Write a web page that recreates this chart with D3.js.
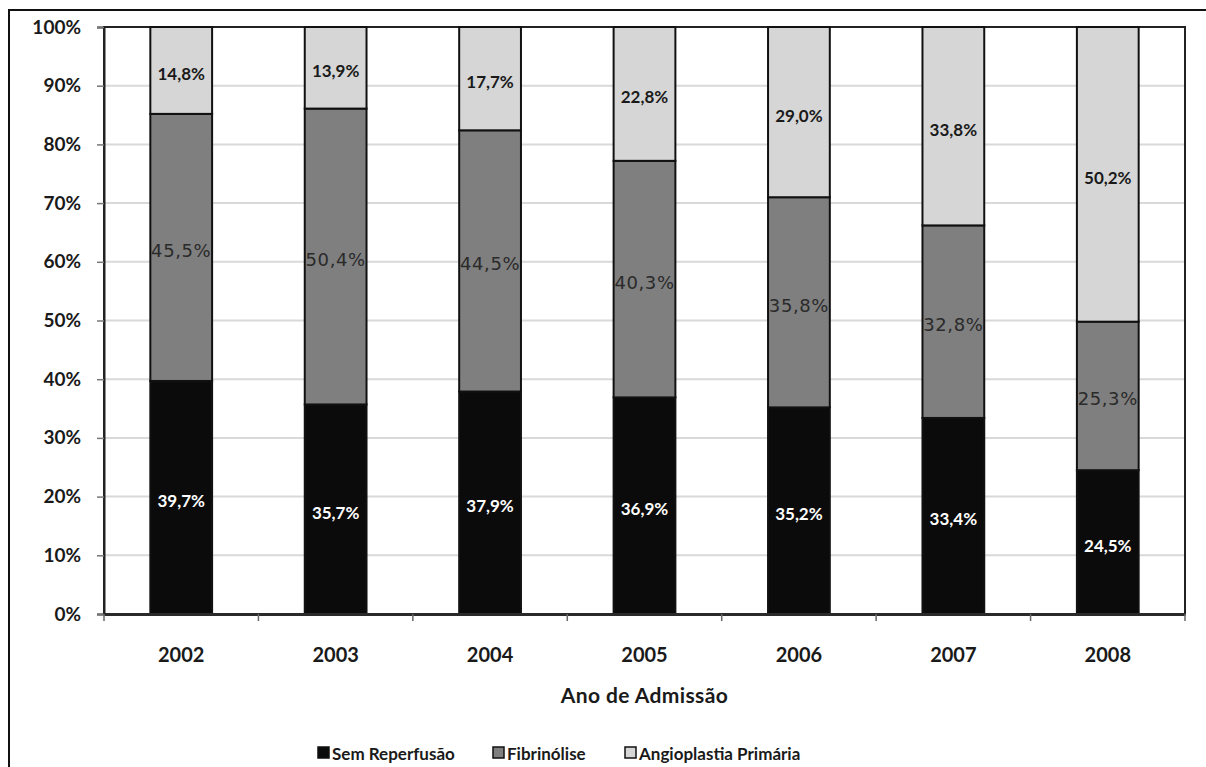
<!DOCTYPE html>
<html>
<head>
<meta charset="utf-8">
<script src="https://cdn.jsdelivr.net/npm/d3@7"></script>
<style>
  html, body { margin: 0; padding: 0; background: #fff; }
  svg { display: block; }
</style>
</head>
<body>
<svg id="chart" width="1206" height="767"></svg>
<script>
// Reperfusion strategy by year of admission (stacked to 100%)
const years = ["2002", "2003", "2004", "2005", "2006", "2007", "2008"];
const semReperfusao = [39.7, 35.7, 37.9, 36.9, 35.2, 33.4, 24.5];
const fibrinolise = [45.5, 50.4, 44.5, 40.3, 35.8, 32.8, 25.3];
const angioplastia = [14.8, 13.9, 17.7, 22.8, 29.0, 33.8, 50.2];
const seriesNames = ["Sem Reperfusão", "Fibrinólise", "Angioplastia Primária"];
const yTicks = [0, 10, 20, 30, 40, 50, 60, 70, 80, 90, 100];
const xTitle = "Ano de Admissão";

const colors = ["#0b0b0b", "#7f7f7f", "#d6d6d6"];
const labelStyles = [
  { fill: "#ffffff", size: 17, weight: 700, family: "Lato, sans-serif", spacing: 0 },
  { fill: "#2a2a2a", size: 18, weight: 400, family: "'DejaVu Sans', sans-serif", spacing: 0.6 },
  { fill: "#1a1a1a", size: 17, weight: 700, family: "Lato, sans-serif", spacing: 0 }
];

const rows = years.map((y, i) => ({
  year: y,
  s0: semReperfusao[i],
  s1: fibrinolise[i],
  s2: angioplastia[i]
}));
const keys = ["s0", "s1", "s2"];
const stacked = d3.stack().keys(keys)(rows);

const svg = d3.select("#chart");
const margin = { left: 104, top: 27, right: 1185, bottom: 614 };

const x = d3.scaleBand()
  .domain(years)
  .range([margin.left, margin.right])
  .paddingInner(0.6)
  .paddingOuter(0.3);

const y = d3.scaleLinear()
  .domain([0, 100])
  .range([margin.bottom, margin.top]);

// Outer frame (top and left edges)
svg.append("path")
  .attr("d", `M9,767 L9,10 L1206,10`)
  .attr("fill", "none")
  .attr("stroke", "#111")
  .attr("stroke-width", 2);

// Gridlines
svg.append("g")
  .selectAll("line")
  .data(yTicks.filter(t => t > 0 && t < 100))
  .join("line")
  .attr("x1", margin.left)
  .attr("x2", margin.right)
  .attr("y1", d => y(d))
  .attr("y2", d => y(d))
  .attr("stroke", "#d9d9d9")
  .attr("stroke-width", 2);

// Plot area frame
svg.append("rect")
  .attr("x", margin.left)
  .attr("y", margin.top)
  .attr("width", margin.right - margin.left)
  .attr("height", margin.bottom - margin.top)
  .attr("fill", "none")
  .attr("stroke", "#222")
  .attr("stroke-width", 2);

// Y axis
const yAxis = d3.axisLeft(y)
  .tickValues(yTicks)
  .tickFormat(d => d + "%")
  .tickSize(7)
  .tickPadding(16);
const gy = svg.append("g")
  .attr("transform", `translate(${margin.left},0)`)
  .call(yAxis);
gy.select(".domain").attr("stroke", "#222").attr("stroke-width", 2);
gy.selectAll(".tick line").attr("stroke", "#777").attr("stroke-width", 1.5);
gy.selectAll(".tick text")
  .attr("font-family", "Lato, sans-serif")
  .attr("font-weight", 700)
  .attr("font-size", 19)
  .attr("fill", "#1a1a1a");

// Bars
const layer = svg.append("g")
  .selectAll("g")
  .data(stacked)
  .join("g")
  .attr("fill", (d, i) => colors[i]);

layer.selectAll("rect")
  .data(d => d)
  .join("rect")
  .attr("x", d => x(d.data.year))
  .attr("width", x.bandwidth())
  .attr("y", d => y(Math.min(d[1], 100)))
  .attr("height", d => y(d[0]) - y(Math.min(d[1], 100)))
  .attr("stroke", "#111")
  .attr("stroke-width", 2);

// X axis
const xAxis = d3.axisBottom(x).tickSize(0).tickPadding(34);
const gx = svg.append("g")
  .attr("transform", `translate(0,${margin.bottom})`)
  .call(xAxis);
gx.select(".domain").attr("stroke", "#2a2a2a").attr("stroke-width", 3);
gx.selectAll(".tick text")
  .attr("font-family", "Lato, sans-serif")
  .attr("font-weight", 700)
  .attr("font-size", 20)
  .attr("fill", "#1a1a1a");

// Category separators below the axis
const boundaries = d3.range(years.length + 1).map(i => margin.left + i * (margin.right - margin.left) / years.length);
svg.append("g")
  .selectAll("line")
  .data(boundaries)
  .join("line")
  .attr("x1", d => d)
  .attr("x2", d => d)
  .attr("y1", margin.bottom)
  .attr("y2", margin.bottom + 7)
  .attr("stroke", "#666")
  .attr("stroke-width", 1.5);

// Value labels
stacked.forEach((series, si) => {
  const st = labelStyles[si];
  svg.append("g")
    .selectAll("text")
    .data(series)
    .join("text")
    .attr("x", d => x(d.data.year) + x.bandwidth() / 2)
    .attr("y", d => y((d[0] + Math.min(d[1], 100)) / 2) + 3)
    .attr("text-anchor", "middle")
    .attr("dominant-baseline", "central")
    .attr("font-family", st.family)
    .attr("font-weight", st.weight)
    .attr("font-size", st.size)
    .attr("letter-spacing", st.spacing)
    .attr("fill", st.fill)
    .text(d => d.data[series.key].toFixed(1).replace(".", ",") + "%");
});

// Axis title
svg.append("text")
  .attr("x", (margin.left + margin.right) / 2)
  .attr("y", 694)
  .attr("text-anchor", "middle")
  .attr("dominant-baseline", "central")
  .attr("font-family", "Lato, sans-serif")
  .attr("font-weight", 700)
  .attr("font-size", 21)
  .attr("letter-spacing", 0.4)
  .attr("fill", "#1a1a1a")
  .text(xTitle);

// Legend
const legendX = [318, 493, 625];
const legend = svg.append("g")
  .selectAll("g")
  .data(seriesNames)
  .join("g")
  .attr("transform", (d, i) => `translate(${legendX[i]},753)`);
legend.append("rect")
  .attr("x", 0)
  .attr("y", -6)
  .attr("width", 11)
  .attr("height", 11)
  .attr("fill", (d, i) => colors[i])
  .attr("stroke", "#111")
  .attr("stroke-width", 1.5);
legend.append("text")
  .attr("x", 14)
  .attr("y", 0)
  .attr("dominant-baseline", "central")
  .attr("font-family", "Lato, sans-serif")
  .attr("font-weight", 700)
  .attr("font-size", 17)
  .attr("fill", "#1a1a1a")
  .text(d => d);
</script>
</body>
</html>
